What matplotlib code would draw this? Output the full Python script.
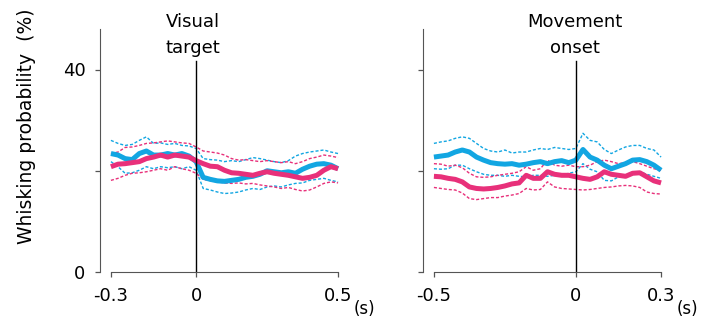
import numpy as np
import matplotlib
matplotlib.use("Agg")
import matplotlib.pyplot as plt

plt.rcParams['font.family'] = ['DejaVu Sans']

# ---------------- data ----------------
t_left = np.round(np.arange(-0.3, 0.5001, 0.025), 3)
t_right = np.round(np.arange(-0.5, 0.3001, 0.025), 3)

blue_mean_L = [23.4, 23.1, 22.4, 22.2, 23.4, 23.9, 23.1, 23.1, 23.4, 23.1, 23.4, 22.9, 21.8, 18.7, 18.3, 18.0, 17.9,
               18.1, 18.3, 18.7, 18.9, 19.3, 20.0, 19.8, 19.6, 19.8, 19.5, 20.3, 20.9, 21.3, 21.4, 21.1, 20.4]
blue_hi_L = [26.0, 25.4, 25.0, 25.2, 26.0, 26.7, 25.4, 25.5, 25.2, 25.4, 25.0, 24.9, 24.4, 22.4, 22.2, 22.1, 21.8,
             22.0, 21.8, 22.2, 22.6, 22.4, 22.1, 21.8, 21.6, 22.0, 22.9, 23.4, 23.7, 23.9, 24.1, 23.7, 23.4]
blue_lo_L = [21.8, 20.8, 19.5, 19.6, 20.1, 20.8, 20.4, 20.8, 20.6, 20.8, 20.4, 20.8, 20.1, 16.5, 16.2, 15.8, 15.5,
             15.6, 15.8, 16.2, 16.5, 16.3, 16.8, 17.0, 16.8, 17.2, 17.5, 17.6, 18.1, 18.3, 18.5, 18.1, 17.8]
pink_mean_L = [20.8, 21.3, 21.4, 21.6, 21.8, 22.4, 22.7, 23.1, 22.7, 23.1, 22.9, 22.7, 22.0, 21.4, 20.9, 20.8, 20.1,
               19.6, 19.5, 19.3, 19.1, 19.5, 19.8, 19.5, 19.3, 19.1, 18.8, 18.5, 18.7, 19.1, 20.1, 20.8, 20.4]
pink_hi_L = [23.4, 23.7, 24.6, 24.7, 25.0, 25.4, 25.5, 25.7, 25.9, 25.7, 25.5, 25.4, 24.7, 23.9, 23.7, 23.5, 23.1,
             22.4, 22.1, 22.2, 22.0, 21.8, 22.0, 21.8, 21.6, 21.8, 21.4, 21.8, 22.4, 22.7, 23.1, 22.9, 22.6]
pink_lo_L = [18.1, 18.5, 19.1, 19.5, 19.6, 19.8, 20.1, 20.4, 20.1, 20.8, 20.4, 20.1, 19.5, 18.3, 18.0, 17.8, 17.6,
             17.5, 17.6, 17.4, 17.5, 17.2, 17.0, 16.8, 16.5, 16.7, 16.3, 16.0, 16.2, 16.8, 17.5, 17.8, 17.6]

blue_mean_R = [22.7, 22.9, 23.1, 23.7, 24.1, 23.7, 22.7, 22.1, 21.6, 21.4, 21.3, 21.4, 21.1, 21.3, 21.6, 21.8, 21.4,
               21.8, 22.0, 21.6, 22.1, 24.2, 22.7, 22.1, 21.1, 20.4, 20.9, 21.4, 22.1, 22.2, 21.8, 21.1, 20.1]
blue_hi_R = [25.4, 25.7, 25.9, 26.4, 26.7, 26.4, 25.4, 24.4, 23.9, 23.7, 24.1, 23.5, 23.7, 23.7, 24.1, 24.4, 24.2,
             24.6, 24.4, 24.2, 24.4, 27.4, 26.0, 25.7, 24.2, 23.4, 24.1, 24.7, 25.0, 25.0, 24.4, 24.1, 22.7]
blue_lo_R = [20.4, 20.3, 20.4, 21.1, 21.1, 20.4, 19.8, 19.3, 19.1, 19.1, 18.9, 19.1, 18.9, 18.8, 19.1, 19.1, 18.9,
             19.1, 19.1, 19.5, 19.8, 21.4, 20.3, 19.8, 18.1, 18.0, 18.8, 19.1, 19.8, 19.8, 19.3, 18.9, 18.5]
pink_mean_R = [18.9, 18.8, 18.5, 18.3, 17.8, 16.8, 16.5, 16.4, 16.5, 16.7, 17.0, 17.4, 17.6, 19.1, 18.5, 18.5, 19.8,
               19.3, 19.1, 19.1, 18.8, 18.5, 18.3, 18.8, 19.8, 19.3, 19.1, 18.9, 19.5, 19.6, 18.8, 18.0, 17.6]
pink_hi_R = [21.4, 21.3, 20.9, 21.1, 20.6, 19.5, 18.8, 18.7, 18.8, 19.1, 19.3, 19.5, 19.8, 20.8, 20.1, 20.4, 22.1,
             21.1, 20.9, 21.1, 20.8, 20.8, 21.1, 21.8, 22.1, 21.8, 21.4, 21.6, 21.8, 21.4, 20.9, 20.4, 20.1]
pink_lo_R = [16.7, 16.5, 16.3, 16.2, 15.6, 14.5, 14.3, 14.5, 14.7, 14.7, 15.0, 15.2, 15.5, 16.5, 16.2, 16.3, 17.8,
             16.8, 16.5, 16.4, 16.3, 16.2, 16.3, 16.5, 16.7, 16.8, 17.0, 17.1, 17.0, 16.7, 15.8, 15.5, 15.4]

yticks = [0, 20, 40]
ytick_labels_L = ['0', '', '40']
ytick_labels_R = ['', '', '']
xticks_L = [-0.3, 0, 0.5]
xtick_labels_L = ['-0.3', '0', '0.5']
xticks_R = [-0.5, 0, 0.3]
xtick_labels_R = ['-0.5', '0', '0.3']
titles_L = ['Visual', 'target']
titles_R = ['Movement', 'onset']
ylabel = 'Whisking probability  (%)'
unit = '(s)'

BLUE = '#12A6E2'
PINK = '#E8307A'
W, H = 702, 324

fig = plt.figure(figsize=(W / 100, H / 100), dpi=100)

def px_axes(x0, x1, y_top, y_bot):
    return fig.add_axes([x0 / W, 1 - y_bot / H, (x1 - x0) / W, (y_bot - y_top) / H])

def ftext(x, y, s, **kw):
    return fig.text(x / W, 1 - y / H, s, **kw)

axL = px_axes(100, 345, 29, 272)
axR = px_axes(423, 668, 29, 272)

panels = [
    (axL, t_left, blue_mean_L, blue_hi_L, blue_lo_L, pink_mean_L, pink_hi_L, pink_lo_L,
     xticks_L, xtick_labels_L, ytick_labels_L, (-0.3 - 11 / 286, 0.5 + 7 / 286)),
    (axR, t_right, blue_mean_R, blue_hi_R, blue_lo_R, pink_mean_R, pink_hi_R, pink_lo_R,
     xticks_R, xtick_labels_R, ytick_labels_R, (-0.5 - 11 / 286, 0.3 + 7 / 286)),
]

dash = (0, (2.2, 1.4))
for (ax, t, bm, bh, bl, pm, ph, pl, xt, xtl, ytl, xlim) in panels:
    ax.plot(t, bh, color=BLUE, lw=1.0, ls=dash)
    ax.plot(t, bl, color=BLUE, lw=1.0, ls=dash)
    ax.plot(t, ph, color=PINK, lw=1.0, ls=dash)
    ax.plot(t, pl, color=PINK, lw=1.0, ls=dash)
    ax.plot(t, bm, color=BLUE, lw=3.6, solid_capstyle='butt')
    ax.plot(t, pm, color=PINK, lw=3.6, solid_capstyle='butt')
    ax.plot([0, 0], [0, 41.6], color='black', lw=1.0)
    ax.set_xlim(*xlim)
    ax.set_ylim(0, 48)
    for s in ['top', 'right']:
        ax.spines[s].set_visible(False)
    ax.spines['left'].set_color('#555555')
    ax.spines['bottom'].set_color('#555555')
    ax.spines['bottom'].set_bounds(xt[0], xt[-1])
    ax.set_xticks(xt)
    ax.set_xticklabels(xtl)
    ax.set_yticks(yticks)
    ax.set_yticklabels(ytl)
    ax.tick_params(axis='both', direction='out', length=3.5, width=0.9, color='#555555',
                   labelsize=13)
    ax.tick_params(axis='x', pad=7)
    ax.tick_params(axis='y', pad=7)
    ax.patch.set_visible(False)

ftext(27, 126, ylabel, ha='center', va='center', rotation=90, fontsize=13.5)

ftext(193, 27, titles_L[0], ha='center', va='baseline', fontsize=13)
ftext(193, 53, titles_L[1], ha='center', va='baseline', fontsize=13)
ftext(575, 27, titles_R[0], ha='center', va='baseline', fontsize=13)
ftext(575, 53, titles_R[1], ha='center', va='baseline', fontsize=13)
ftext(364, 309, unit, ha='center', va='center', fontsize=12)
ftext(687, 309, unit, ha='center', va='center', fontsize=12)

fig.savefig('out.png', dpi=100)
